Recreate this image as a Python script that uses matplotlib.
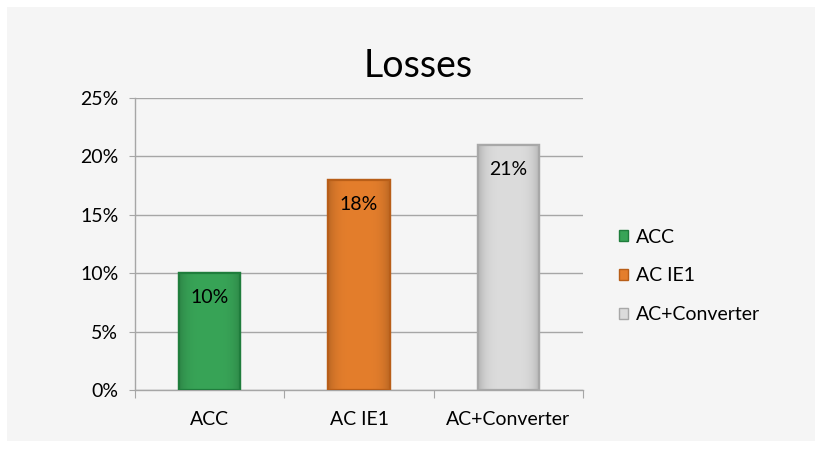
import matplotlib
matplotlib.use("Agg")
import matplotlib.pyplot as plt
from matplotlib.patches import Rectangle, Patch
from matplotlib.colors import to_rgb
import numpy as np

categories = ["ACC", "AC IE1", "AC+Converter"]
values = [10, 18, 21]
labels = ["10%", "18%", "21%"]
yticks = [0, 5, 10, 15, 20, 25]
ytick_labels = ["0%", "5%", "10%", "15%", "20%", "25%"]

face = ["#38a457", "#e47e2c", "#dcdcdc"]
edge = ["#1f7d3c", "#b85e18", "#a8a8a8"]

plt.rcParams['font.family'] = ['Lato', 'DejaVu Sans']

fig = plt.figure(figsize=(8.23, 4.5), dpi=100)
fig.patch.set_facecolor("white")
fig.patches.append(Rectangle((7/823, 1-441/450), (815-7)/823, (441-7)/450,
                             transform=fig.transFigure, facecolor="#f5f5f5",
                             edgecolor="none", zorder=-10))

ax = fig.add_axes([135/823, 1-390/450, (583-135)/823, (390-98)/450])
ax.set_facecolor("none")
x = np.arange(len(categories))
width = 0.41
bars = ax.bar(x, values, width=width, color=face, edgecolor=edge, linewidth=1.6, zorder=3)

# subtle horizontal shading inside each bar
t = np.linspace(-1, 1, 64)
shade = 1 - 0.18 * np.abs(t) ** 4
for b, f in zip(bars, face):
    c = np.array(to_rgb(f))
    img = np.clip(c[None, None, :] * shade[None, :, None], 0, 1)
    im = ax.imshow(img, extent=[b.get_x(), b.get_x() + b.get_width(), 0, b.get_height()],
                   aspect="auto", zorder=3.5, interpolation="bilinear")
    im.set_clip_path(b)
    b2 = Rectangle((b.get_x(), 0), b.get_width(), b.get_height(), facecolor="none",
                   edgecolor=b.get_edgecolor(), linewidth=1.6, zorder=3.6)
    ax.add_patch(b2)

for xi, v, lab in zip(x, values, labels):
    ax.text(xi, v - 2.1, lab, ha="center", va="center", fontsize=14, color="black", zorder=4)

ax.set_xlim(-0.5, 2.5)
ax.set_ylim(0, 25)
ax.set_yticks(yticks)
ax.set_yticklabels(ytick_labels, fontsize=14)
ax.yaxis.grid(True, color="#a6a6a6", linewidth=1)
ax.set_axisbelow(True)
ax.set_xticks([-0.5, 0.5, 1.5, 2.5])
ax.set_xticklabels([])
ax.set_xticks(x, minor=True)
ax.set_xticklabels(categories, minor=True, fontsize=14)
ax.tick_params(axis="x", which="major", length=6, color="#a6a6a6", direction="out")
ax.tick_params(axis="x", which="minor", length=0, pad=15)
ax.tick_params(axis="y", length=4, color="#a6a6a6", pad=8)
for s in ["top", "right"]:
    ax.spines[s].set_visible(False)
for s in ["left", "bottom"]:
    ax.spines[s].set_color("#a6a6a6")
    ax.spines[s].set_linewidth(1)

fig.text(418/823, 1-66/450, "Losses", ha="center", va="center", fontsize=27)

handles = [Patch(facecolor=f, edgecolor=e, linewidth=1) for f, e in zip(face, edge)]
fig.legend(handles, categories, loc="center left", bbox_to_anchor=(601/823, 1-276/450),
           frameon=False, fontsize=14, handlelength=0.5, handleheight=0.5,
           handletextpad=0.4, labelspacing=1.12)

fig.savefig("out.png", dpi=100, facecolor="white")
